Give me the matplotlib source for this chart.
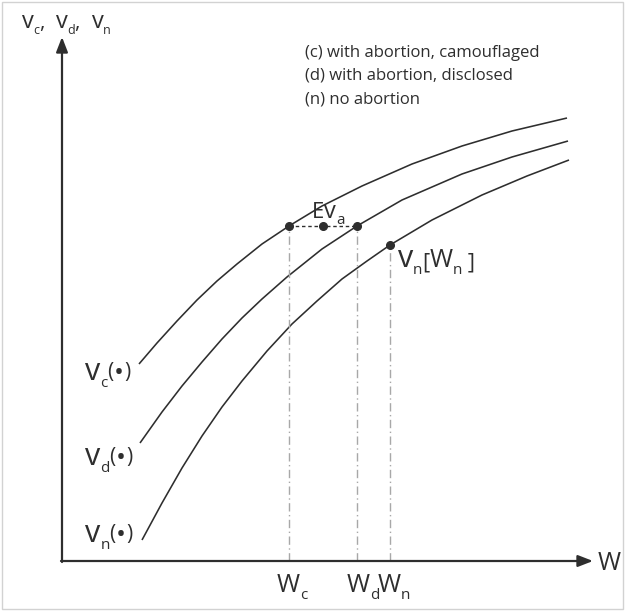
import matplotlib
matplotlib.use('Agg')
import matplotlib.pyplot as plt
from matplotlib.patches import Rectangle

plt.rcParams['font.family'] = ['Open Sans', 'DejaVu Sans']

ink = '#2e2e2e'

# curves (W on x, value on y, origin at the axis corner)
w_c = [77, 95, 115, 135, 155, 175, 200, 227, 260, 300, 350, 400, 450, 505]
v_c = [197, 218, 240, 261, 280, 297, 317, 335, 355, 375, 397, 415, 430, 443]

w_d = [78, 100, 120, 140, 160, 180, 200, 225, 260, 295, 340, 400, 450, 506]
v_d = [118, 149, 175, 199, 222, 243, 262, 284, 312, 335, 361, 387, 404, 420]

w_n = [80, 100, 120, 140, 160, 180, 205, 230, 255, 280, 305, 328, 370, 420, 465, 507]
v_n = [21, 58, 93, 125, 154, 180, 210, 237, 260, 282, 300, 316, 341, 366, 385, 401]

# marked wealth levels and the values there
w_marks = [227, 295, 328]       # W_c, W_d, W_n
v_marks = [335, 335, 316]
w_ev = (w_marks[0] + w_marks[1]) / 2

legend_lines = ['(c) with abortion, camouflaged',
                '(d) with abortion, disclosed',
                '(n) no abortion']

fig = plt.figure(figsize=(6.26, 6.13), dpi=100)
ax = fig.add_axes([0, 0, 1, 1])
ax.set_xlim(-62, 564)
ax.set_ylim(-52, 561)
ax.axis('off')

# outer frame
fig.patches.append(Rectangle((1.5 / 626, 4.5 / 613), 621 / 626, 607 / 613,
                             transform=fig.transFigure, fill=False,
                             ec='#d2d2d2', lw=1))

# axes with arrows
arr = dict(arrowstyle='-|>,head_length=0.9,head_width=0.35', lw=1.6,
           color=ink, shrinkA=0, shrinkB=0)
ax.annotate('', xy=(0, 524), xytext=(0, -1), arrowprops=arr)
ax.annotate('', xy=(531, 0), xytext=(-1, 0), arrowprops=arr)

# curves
for w, v in [(w_c, v_c), (w_d, v_d), (w_n, v_n)]:
    ax.plot(w, v, color=ink, lw=1.15, solid_capstyle='butt',
            solid_joinstyle='round')

# guide lines down to the W axis
for w, v in zip(w_marks, v_marks):
    ax.plot([w, w], [0, v], color='#a8a8a8', lw=1,
            linestyle=(0, (6, 2.5, 1, 2.5)))
ax.plot(w_marks[:2], v_marks[:2], color=ink, lw=1, linestyle=(0, (2.5, 2)))

ax.plot(w_marks, v_marks, 'o', color=ink, ms=5.5)
ax.plot([w_ev], [v_marks[0]], 'o', color=ink, ms=5.5)


def rich(x, y, pieces):
    # lay out pieces (text, size, dy in points) one after the other
    r = fig.canvas.get_renderer()
    dx = 0
    for s, fs, dy in pieces:
        t = ax.annotate(s, (x, y), xytext=(dx, dy), textcoords='offset points',
                        fontsize=fs, va='baseline', ha='left', color=ink)
        dx += t.get_window_extent(r).width * 72 / fig.dpi


rich(-40, 533, [('v', 17, 0), ('c', 9, -4), (',  ', 15, 0), ('v', 17, 0),
                ('d', 9, -4), (',  ', 15, 0), ('v', 17, 0), ('n', 9, -4)])

for y, s in zip([504, 481, 458], legend_lines):
    ax.text(243, y, s, fontsize=12, color=ink, va='baseline')

for y, s in zip([181, 96, 19], ['c', 'd', 'n']):
    rich(23, y, [('v', 22, 0), (s, 11, -5), ('(', 15, 1.5), ('•', 19, 0),
                 (')', 15, 1.5)])

rich(250, 343, [('E', 16, 0), ('v', 17, 0), ('a', 11, -4)])
rich(336, 294, [('v', 22, 0), ('n', 11, -5), ('[', 16, -1), ('W', 18, 0),
                ('n', 11, -5), (' ]', 16, -1)])

rich(536, -9, [('W', 18, 0)])
for x, s in zip([215, 285, 316], ['c', 'd', 'n']):
    rich(x, -31, [('W', 18, 0), (s, 11, -5)])

fig.savefig('out.png', dpi=100)
